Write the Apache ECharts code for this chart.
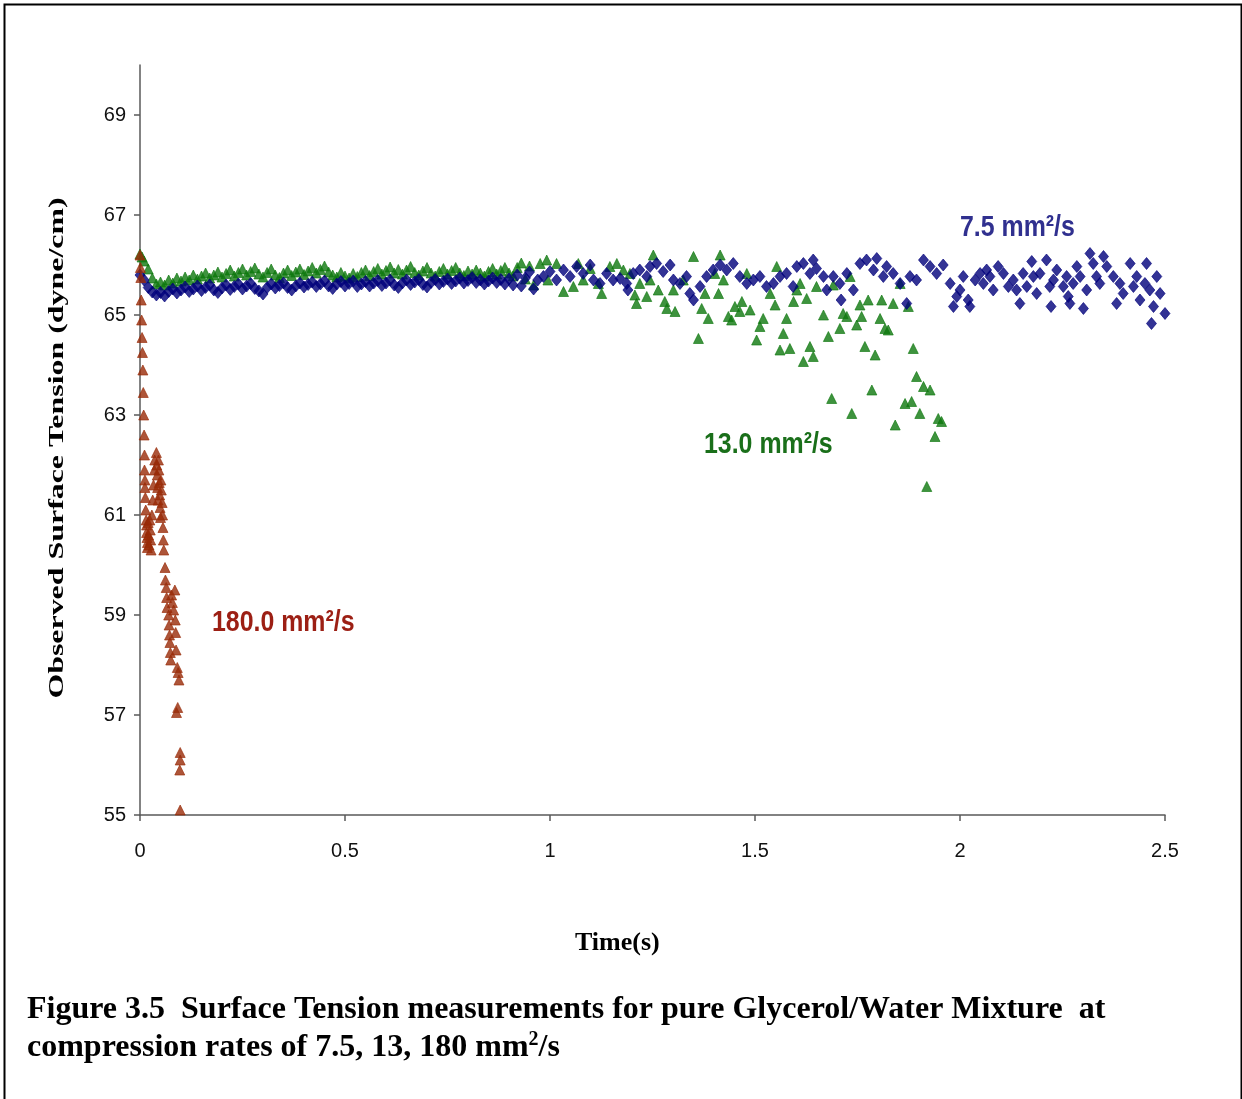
<!DOCTYPE html>
<html>
<head>
<meta charset="utf-8">
<title>Surface Tension – Glycerol/Water</title>
<script src="https://cdn.jsdelivr.net/npm/echarts@6/dist/echarts.min.js"></script>
<style>
  html, body { margin: 0; padding: 0; background: #ffffff; }
  #chart { width: 1242px; height: 1099px; }
</style>
</head>
<body>
<div id="chart"></div>
<script>
// Surface tension (dyne/cm) versus time (s) for three compression rates.

// 7.5 mm²/s — continuous band over the first second
const rate7_5Band = [
  [0.00,65.80],[0.01,65.70],[0.02,65.55],[0.03,65.46],[0.04,65.40],[0.05,65.45],[0.06,65.38],[0.07,65.47],
  [0.08,65.52],[0.09,65.44],[0.10,65.50],[0.11,65.56],[0.12,65.47],[0.13,65.52],[0.14,65.58],[0.15,65.49],
  [0.16,65.55],[0.17,65.60],[0.18,65.50],[0.19,65.45],[0.20,65.54],[0.21,65.60],[0.22,65.51],[0.23,65.57],
  [0.24,65.62],[0.25,65.52],[0.26,65.58],[0.27,65.63],[0.28,65.53],[0.29,65.48],[0.30,65.42],[0.31,65.55],
  [0.32,65.62],[0.33,65.54],[0.34,65.59],[0.35,65.64],[0.36,65.55],[0.37,65.50],[0.38,65.58],[0.39,65.64],
  [0.40,65.56],[0.41,65.61],[0.42,65.66],[0.43,65.57],[0.44,65.62],[0.45,65.68],[0.46,65.58],[0.47,65.53],
  [0.48,65.62],[0.49,65.67],[0.50,65.58],[0.51,65.63],[0.52,65.68],[0.53,65.57],[0.54,65.62],[0.55,65.67],
  [0.56,65.58],[0.57,65.64],[0.58,65.69],[0.59,65.59],[0.60,65.64],[0.61,65.70],[0.62,65.60],[0.63,65.55],
  [0.64,65.64],[0.65,65.70],[0.66,65.61],[0.67,65.66],[0.68,65.71],[0.69,65.61],[0.70,65.56],[0.71,65.65],
  [0.72,65.71],[0.73,65.62],[0.74,65.67],[0.75,65.72],[0.76,65.63],[0.77,65.68],[0.78,65.74],[0.79,65.64],
  [0.80,65.69],[0.81,65.75],[0.82,65.65],[0.83,65.70],[0.84,65.62],[0.85,65.68],[0.86,65.74],[0.87,65.65],
  [0.88,65.71],[0.89,65.62],[0.90,65.72],[0.91,65.60],[0.92,65.80],[0.93,65.58],[0.94,65.74],[0.95,65.86],
  [0.96,65.52],[0.97,65.70]
];

// 7.5 mm²/s — scattered readings after one second
const rate7_5Scatter = [
  [0.984,65.77],[1.000,65.87],[1.016,65.70],[1.033,65.90],[1.049,65.77],[1.065,65.97],[1.081,65.83],[1.098,66.00],
  [1.106,65.70],[1.122,65.63],[1.138,65.83],[1.154,65.70],[1.171,65.73],[1.187,65.63],[1.190,65.50],[1.203,65.83],
  [1.219,65.90],[1.236,65.77],[1.244,65.97],[1.260,66.03],[1.276,65.87],[1.293,66.00],[1.301,65.70],[1.317,65.63],
  [1.333,65.77],[1.341,65.43],[1.350,65.30],[1.366,65.57],[1.382,65.77],[1.398,65.90],[1.415,66.00],[1.431,65.90],
  [1.447,66.03],[1.463,65.77],[1.480,65.63],[1.496,65.70],[1.512,65.77],[1.528,65.57],[1.545,65.63],[1.561,65.77],
  [1.577,65.83],[1.593,65.57],[1.602,65.97],[1.618,66.03],[1.634,65.83],[1.642,66.10],[1.650,65.93],[1.667,65.77],
  [1.675,65.50],[1.691,65.77],[1.707,65.63],[1.710,65.30],[1.724,65.83],[1.740,65.50],[1.756,66.03],[1.772,66.10],
  [1.789,65.90],[1.797,66.13],[1.813,65.77],[1.821,65.97],[1.837,65.83],[1.854,65.63],[1.870,65.23],[1.878,65.77],
  [1.894,65.70],[1.911,66.10],[1.927,65.97],[1.943,65.83],[1.959,66.00],[1.976,65.63],[1.984,65.17],[1.992,65.37],
  [2.000,65.50],[2.008,65.77],[2.020,65.30],[2.024,65.17],[2.037,65.70],[2.049,65.83],[2.057,65.63],[2.065,65.90],
  [2.073,65.77],[2.081,65.50],[2.093,65.97],[2.106,65.83],[2.118,65.57],[2.130,65.70],[2.138,65.50],[2.146,65.23],
  [2.154,65.83],[2.163,65.57],[2.175,66.07],[2.179,65.77],[2.187,65.43],[2.195,65.83],[2.211,66.10],[2.219,65.57],
  [2.222,65.17],[2.228,65.70],[2.236,65.90],[2.252,65.57],[2.260,65.77],[2.264,65.37],[2.268,65.23],[2.276,65.63],
  [2.285,65.97],[2.293,65.77],[2.301,65.13],[2.309,65.50],[2.317,66.23],[2.325,66.03],[2.333,65.77],[2.341,65.63],
  [2.350,66.17],[2.358,65.97],[2.374,65.77],[2.382,65.23],[2.390,65.63],[2.398,65.43],[2.415,66.03],[2.423,65.57],
  [2.431,65.77],[2.439,65.30],[2.451,65.63],[2.455,66.03],[2.463,65.50],[2.467,64.83],[2.472,65.17],[2.480,65.77],
  [2.488,65.43],[2.500,65.03],[2.504,64.87]
];

// 13.0 mm²/s — continuous band over the first second
const rate13Band = [
  [0.000,66.22],[0.005,66.16],[0.01,66.08],[0.02,65.92],[0.03,65.74],[0.04,65.62],[0.05,65.66],[0.06,65.60],
  [0.07,65.70],[0.08,65.64],[0.09,65.74],[0.10,65.68],[0.11,65.76],[0.12,65.70],[0.13,65.80],[0.14,65.72],
  [0.15,65.78],[0.16,65.84],[0.17,65.74],[0.18,65.80],[0.19,65.86],[0.20,65.76],[0.21,65.83],[0.22,65.90],
  [0.23,65.78],[0.24,65.85],[0.25,65.92],[0.26,65.80],[0.27,65.87],[0.28,65.94],[0.29,65.82],[0.30,65.76],
  [0.31,65.85],[0.32,65.92],[0.33,65.80],[0.34,65.75],[0.35,65.84],[0.36,65.90],[0.37,65.79],[0.38,65.86],
  [0.39,65.92],[0.40,65.81],[0.41,65.88],[0.42,65.95],[0.43,65.84],[0.44,65.91],[0.45,65.98],[0.46,65.86],
  [0.47,65.80],[0.48,65.76],[0.49,65.85],[0.50,65.78],[0.51,65.74],[0.52,65.83],[0.53,65.77],[0.54,65.85],
  [0.55,65.90],[0.56,65.79],[0.57,65.87],[0.58,65.93],[0.59,65.82],[0.60,65.89],[0.61,65.96],[0.62,65.84],
  [0.63,65.91],[0.64,65.82],[0.65,65.90],[0.66,65.97],[0.67,65.85],[0.68,65.80],[0.69,65.88],[0.70,65.95],
  [0.71,65.84],[0.72,65.78],[0.73,65.87],[0.74,65.93],[0.75,65.82],[0.76,65.89],[0.77,65.95],[0.78,65.84],
  [0.79,65.79],[0.80,65.88],[0.81,65.82],[0.82,65.90],[0.83,65.84],[0.84,65.78],[0.85,65.87],[0.86,65.93],
  [0.87,65.82],[0.88,65.89],[0.89,65.95],[0.90,65.84],[0.91,65.78],[0.92,65.95],[0.93,66.04],[0.94,65.72],
  [0.95,65.98],[0.96,65.60]
];

// 13.0 mm²/s — scattered readings, dropping off towards 2 s
const rate13Scatter = [
  [0.976,66.03],[0.992,66.10],[0.995,65.70],[1.016,66.03],[1.033,65.47],[1.057,65.57],[1.069,66.03],[1.081,65.70],
  [1.098,65.93],[1.118,65.63],[1.126,65.43],[1.146,65.97],[1.163,66.03],[1.179,65.90],[1.195,65.83],[1.207,65.40],
  [1.211,65.23],[1.219,65.63],[1.236,65.37],[1.244,65.70],[1.252,66.20],[1.264,65.50],[1.280,65.27],[1.285,65.13],
  [1.301,65.50],[1.305,65.07],[1.325,65.70],[1.350,66.17],[1.362,64.53],[1.370,65.13],[1.378,65.43],[1.386,64.93],
  [1.402,65.83],[1.411,65.43],[1.415,66.20],[1.423,65.70],[1.435,64.97],[1.443,64.90],[1.451,65.17],[1.463,65.07],
  [1.468,65.27],[1.480,65.83],[1.488,65.10],[1.504,64.50],[1.512,64.77],[1.520,64.93],[1.537,65.43],[1.549,65.20],
  [1.553,65.97],[1.561,64.30],[1.569,64.63],[1.577,64.93],[1.585,64.33],[1.594,65.27],[1.602,65.50],[1.610,65.63],
  [1.618,64.07],[1.626,65.33],[1.634,64.37],[1.642,64.17],[1.650,65.57],[1.667,65.00],[1.679,64.57],[1.687,63.33],
  [1.691,65.60],[1.707,64.73],[1.715,65.03],[1.724,64.97],[1.732,65.77],[1.736,63.03],[1.748,64.80],[1.756,65.20],
  [1.760,64.97],[1.768,64.37],[1.776,65.30],[1.785,63.50],[1.793,64.20],[1.805,64.93],[1.809,65.30],[1.817,64.73],
  [1.825,64.70],[1.837,65.23],[1.842,62.80],[1.854,65.63],[1.866,63.23],[1.874,65.17],[1.882,63.27],[1.886,64.33],
  [1.894,63.77],[1.902,63.03],[1.911,63.57],[1.919,61.57],[1.927,63.50],[1.939,62.57],[1.947,62.93],[1.955,62.87]
];

// 180.0 mm²/s — rapid collapse within the first 0.1 s
const rate180 = [
  [0.000,66.20],[0.001,65.95],[0.002,65.75],[0.003,65.30],[0.004,64.90],[0.005,64.55],[0.006,64.25],[0.007,63.90],
  [0.008,63.45],[0.009,63.00],[0.010,62.60],[0.011,62.20],[0.011,61.90],[0.012,61.70],[0.012,61.55],[0.013,61.35],
  [0.014,61.10],[0.015,60.90],[0.016,60.80],[0.016,60.65],[0.017,60.55],[0.018,60.45],[0.018,60.35],[0.020,60.85],
  [0.021,60.60],[0.022,60.40],[0.024,60.90],[0.025,60.70],[0.026,60.50],[0.027,60.30],[0.029,61.00],[0.031,61.30],
  [0.033,61.60],[0.035,61.90],[0.036,62.10],[0.040,62.25],[0.041,62.00],[0.042,61.80],[0.043,61.55],[0.044,61.30],
  [0.045,62.10],[0.046,61.90],[0.047,61.65],[0.048,61.40],[0.049,61.15],[0.050,60.95],[0.051,61.70],[0.052,61.50],
  [0.054,61.25],[0.055,61.00],[0.056,60.75],[0.057,60.50],[0.058,60.30],[0.061,59.95],[0.062,59.70],[0.064,59.55],
  [0.065,59.35],[0.066,59.15],[0.070,59.00],[0.071,58.80],[0.072,58.60],[0.073,58.45],[0.074,58.25],[0.075,58.10],
  [0.077,59.40],[0.079,59.25],[0.082,59.10],[0.085,59.50],[0.086,58.90],[0.087,58.65],[0.088,58.30],[0.091,57.95],
  [0.093,57.85],[0.095,57.70],[0.092,57.15],[0.089,57.05],[0.098,56.25],[0.098,56.10],[0.097,55.90],[0.098,55.10]
];

// Axis ticks
const xTickValues = [0, 0.5, 1, 1.5, 2, 2.5];
const yTickValues = [55, 57, 59, 61, 63, 65, 67, 69];

const BLUE = '#00007a';
const GREEN = '#0e780e';
const RED = '#982a08';
const SANS = '"Liberation Sans Narrow", "Liberation Sans", Arial, sans-serif';
const SERIF = '"Liberation Serif", "Times New Roman", serif';

const chart = echarts.init(document.getElementById('chart'), null, { renderer: 'canvas' });

chart.setOption({
  backgroundColor: '#ffffff',
  animation: false,
  grid: { left: 140, right: 77, top: 65, bottom: 284 },
  xAxis: {
    type: 'value',
    min: xTickValues[0],
    max: xTickValues[xTickValues.length - 1],
    interval: 0.5,
    axisLine: { lineStyle: { color: '#5a5a5a', width: 1.5 } },
    axisTick: { show: true, length: 6, lineStyle: { color: '#5a5a5a', width: 1.5 } },
    axisLabel: { margin: 26, fontFamily: SANS, fontSize: 20, color: '#111' },
    splitLine: { show: false }
  },
  yAxis: {
    type: 'value',
    min: 55,
    max: 70,
    axisLine: { show: true, lineStyle: { color: '#5a5a5a', width: 1.5 } },
    axisTick: { show: true, length: 6, customValues: yTickValues, lineStyle: { color: '#5a5a5a', width: 1.5 } },
    axisLabel: { margin: 14, customValues: yTickValues, fontFamily: SANS, fontSize: 20, color: '#111' },
    splitLine: { show: false }
  },
  series: [
    {
      name: '13.0 mm²/s', type: 'scatter', data: rate13Band.concat(rate13Scatter),
      symbol: 'triangle', symbolSize: [10, 10],
      itemStyle: { color: GREEN, borderColor: GREEN, borderWidth: 0.8 }, z: 2
    },
    {
      name: '7.5 mm²/s', type: 'scatter', data: rate7_5Band.concat(rate7_5Scatter),
      symbol: 'diamond', symbolSize: [10, 12],
      itemStyle: { color: BLUE, borderColor: BLUE, borderWidth: 0.8 }, z: 3
    },
    {
      name: '180.0 mm²/s', type: 'scatter', data: rate180,
      symbol: 'triangle', symbolSize: [10, 10],
      itemStyle: { color: RED, borderColor: RED, borderWidth: 0.8 }, z: 4
    }
  ],
  graphic: [
    {
      type: 'rect', left: 2, top: 2, silent: true,
      shape: { width: 1237, height: 1110 },
      style: { fill: null, stroke: '#000', lineWidth: 2 }
    },
    {
      type: 'text', x: 57, y: 448, rotation: Math.PI / 2, scaleX: 1.45,
      style: {
        text: 'Observed Surface Tension (dyne/cm)', fill: '#000',
        font: 'bold 22px ' + SERIF, align: 'center', verticalAlign: 'middle'
      }
    },
    {
      type: 'text', x: 960, y: 228, scaleX: 0.83,
      style: { text: '7.5 mm²/s', fill: '#30308f', font: 'bold 30px ' + SANS, verticalAlign: 'middle' }
    },
    {
      type: 'text', x: 704, y: 445, scaleX: 0.83,
      style: { text: '13.0 mm²/s', fill: '#1a6f1a', font: 'bold 30px ' + SANS, verticalAlign: 'middle' }
    },
    {
      type: 'text', x: 212, y: 623, scaleX: 0.83,
      style: { text: '180.0 mm²/s', fill: '#9c1f14', font: 'bold 30px ' + SANS, verticalAlign: 'middle' }
    },
    {
      type: 'text', x: 575, y: 943,
      style: { text: 'Time(s)', fill: '#000', font: 'bold 26px ' + SERIF, verticalAlign: 'middle' }
    },
    {
      type: 'text', x: 27, y: 1010,
      style: {
        text: 'Figure 3.5  Surface Tension measurements for pure Glycerol/Water Mixture  at',
        fill: '#000', font: 'bold 32px ' + SERIF, verticalAlign: 'middle'
      }
    },
    {
      type: 'text', x: 27, y: 1048,
      style: {
        text: '{t|compression rates of 7.5, 13, 180 mm}{s|2}{t|/s}',
        verticalAlign: 'middle',
        rich: {
          t: { fill: '#000', font: 'bold 32px ' + SERIF },
          s: { fill: '#000', font: 'bold 20px ' + SERIF, verticalAlign: 'top', padding: [0, 0, 16, 0] }
        }
      }
    }
  ]
});
</script>
</body>
</html>
